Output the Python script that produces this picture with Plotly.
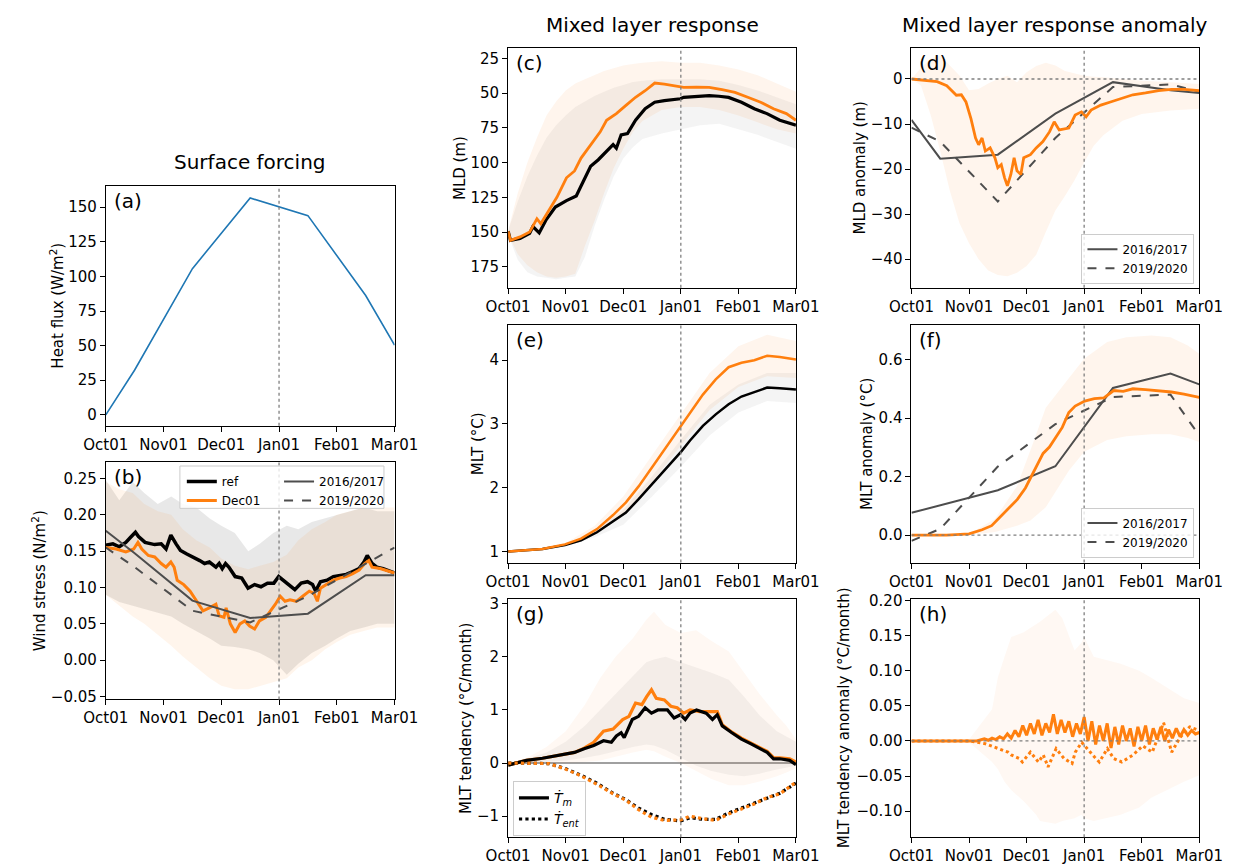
import plotly.graph_objects as go

W, H = 1256, 867
FONT = "DejaVu Sans"
ORANGE = "#ff7f0e"
BLUE = "#1f77b4"
DGREY = "#4d4d4d"

# ---------------- data ----------------
month_ticks = [0, 30, 60, 90, 120, 150]
month_labels = ["Oct01", "Nov01", "Dec01", "Jan01", "Feb01", "Mar01"]

# (a) heat flux
hf_day = [0, 15, 45, 75, 105, 135, 150]
hf_val = [0, 32.4, 105.6, 156.6, 143.9, 86.2, 50.3]

# (b) wind stress
obs_day = [0, 15, 45, 75, 105, 135, 150]
ws_1617 = [0.178, 0.147, 0.082, 0.058, 0.064, 0.117, 0.117]
ws_1920 = [0.155, 0.128, 0.068, 0.052, 0.088, 0.133, 0.155]
ws_ref_day = [0, 3.7, 7, 10.4, 12.9, 15.4, 17, 20.4, 25.4, 28.8, 31.3, 33.8, 36.5, 38.8, 42.1, 45.5, 48.8, 51.3,
              53.8, 57.2, 58.9, 60.5, 62.2, 63.9, 67.2, 70.6, 72.2, 73.9, 77.3, 80.6, 84, 87.3, 89.8, 92.3, 94.8,
              98.2, 101.5, 104.8, 107.4, 109, 111.5, 114.9, 118.2, 121.6, 124.9, 128.3, 131.6, 134.1, 135.8,
              138.3, 140.8, 144.1, 147.5, 150]
ws_ref = [0.158, 0.160, 0.156, 0.162, 0.169, 0.176, 0.170, 0.162, 0.159, 0.160, 0.153, 0.172, 0.160, 0.151,
          0.146, 0.142, 0.137, 0.133, 0.135, 0.128, 0.133, 0.126, 0.133, 0.128, 0.115, 0.113, 0.106, 0.099,
          0.104, 0.101, 0.106, 0.106, 0.115, 0.110, 0.104, 0.097, 0.106, 0.108, 0.104, 0.095, 0.108, 0.110,
          0.115, 0.117, 0.118, 0.122, 0.126, 0.135, 0.144, 0.133, 0.128, 0.126, 0.122, 0.120]
ws_dec_day = [0, 5.4, 10.4, 14.5, 16.7, 18.7, 22.1, 25.4, 28.8, 31.3, 33.8, 35.5, 37.1, 40.5, 43.8, 47.2, 50.5,
              53.8, 57.2, 58.9, 61.4, 62.5, 64.7, 67.2, 69.7, 72.2, 74.7, 77.3, 79.8, 83.1, 85.6, 88.1, 90.6,
              93.1, 95.7, 99, 102.3, 105.7, 108.2, 109.9, 111.5, 114.9, 118.2, 121.6, 124.9, 128.3, 131.6,
              134.5, 136.6, 138.3, 142.5, 150]
ws_dec = [0.155, 0.153, 0.149, 0.153, 0.162, 0.153, 0.144, 0.142, 0.133, 0.128, 0.135, 0.128, 0.110, 0.104,
          0.095, 0.081, 0.068, 0.072, 0.077, 0.061, 0.059, 0.072, 0.050, 0.038, 0.050, 0.054, 0.047, 0.043,
          0.054, 0.059, 0.068, 0.077, 0.088, 0.081, 0.083, 0.081, 0.088, 0.095, 0.092, 0.081, 0.099, 0.104,
          0.110, 0.113, 0.115, 0.119, 0.124, 0.133, 0.137, 0.128, 0.126, 0.120]
band_day_b = [0, 7, 14, 20, 27, 34, 40, 47, 54, 60, 67, 74, 80, 87, 94, 100, 107, 114, 120, 127, 134, 141, 150]
ws_ref_hi = [0.248, 0.22, 0.245, 0.23, 0.215, 0.225, 0.215, 0.21, 0.195, 0.185, 0.175, 0.15, 0.16, 0.175, 0.185,
             0.18, 0.19, 0.195, 0.2, 0.205, 0.21, 0.205, 0.205]
ws_ref_lo = [0.09, 0.08, 0.075, 0.07, 0.065, 0.06, 0.05, 0.04, 0.03, 0.02, 0.018, 0.015, 0.01, 0.0, -0.02,
             -0.005, 0.01, 0.02, 0.03, 0.04, 0.045, 0.05, 0.05]
ws_dec_hi = [0.245, 0.235, 0.23, 0.215, 0.205, 0.2, 0.18, 0.165, 0.155, 0.14, 0.13, 0.125, 0.13, 0.135, 0.145,
             0.165, 0.18, 0.19, 0.2, 0.205, 0.21, 0.21, 0.21]
ws_dec_lo = [0.09, 0.075, 0.06, 0.05, 0.035, 0.02, 0.005, -0.01, -0.025, -0.035, -0.04, -0.04, -0.035, -0.03,
             -0.025, -0.01, 0.0, 0.015, 0.025, 0.035, 0.04, 0.045, 0.045]

# (c) MLD
mld_ref_day = [0, 1.2, 6.2, 11.2, 12.9, 16.2, 19.6, 24.6, 30.4, 35.5, 38, 43, 47, 51.3, 54.7, 56.4, 58.9, 62.2,
               66.4, 71.4, 76.4, 81.4, 86.5, 89.8, 91.5, 98.2, 104.8, 109.9, 114.9, 121.6, 128.3, 134.9, 141.6, 150]
mld_ref = [149.4, 156, 154.6, 151, 146, 150.6, 141.6, 132, 127.4, 124, 116.8, 102.6, 97.9, 92, 87, 89.6, 80, 79,
           69.5, 61.2, 56.5, 55.3, 54.6, 54, 53, 52.2, 51.7, 52.2, 53, 56.5, 61.2, 64.7, 69.5, 73]
mld_dec_day = [0, 1.2, 6.2, 11.2, 15, 17, 21.2, 25.4, 30.4, 34.6, 38, 43, 48, 51.3, 56.4, 61.4, 66.4, 71.4, 76.4,
               81.4, 86.5, 91.5, 98.2, 104.8, 111.5, 118.2, 124.9, 131.6, 138.3, 145, 150]
mld_dec = [149.4, 156, 153.5, 150, 140.4, 144, 134.5, 125, 110.9, 106, 96.7, 87.2, 77.8, 69.5, 64.7, 58.8, 52.9,
           48.2, 42.7, 43.5, 44.6, 45.8, 45.6, 45.8, 47.5, 49.4, 52.9, 56.5, 61.2, 64.7, 69.5]
band_day_c = [0, 5, 10, 15, 20, 25, 30, 35, 40, 45, 50, 55, 60, 65, 70, 80, 90, 100, 110, 120, 130, 140, 150]
mld_dec_hi = [149, 122, 100, 82, 66, 56, 48, 43, 40, 37, 34, 32, 30, 29, 28, 27, 28, 28, 30, 33, 37, 43, 49]
mld_dec_lo = [151, 166, 174, 179, 182, 183, 182, 180, 160, 142, 122, 104, 90, 78, 70, 62, 60, 60, 62, 66, 71, 76, 79]
mld_ref_hi = [149, 128, 110, 95, 82, 73, 66, 60, 56, 52, 49, 46, 44, 42, 41, 40, 40, 40, 41, 44, 48, 53, 58]
mld_ref_lo = [152, 170, 179, 182, 183, 184, 183, 182, 168, 146, 127, 110, 97, 89, 83, 79, 76, 73, 72, 76, 80, 85, 90]

# (d) MLD anomaly
mlda_dec_day = [0, 13.4, 18.4, 23.4, 26, 28.4, 31, 33.4, 35, 36.8, 38.5, 41, 43.5, 45, 46.8, 48.5, 50, 51.8, 53.5,
                55, 57, 58.5, 62, 65, 68.5, 72, 74.4, 77, 82, 85.3, 88.6, 91, 93.6, 98.7, 103.7, 108.7, 115.4,
                122, 128.8, 135.5, 142, 150]
mlda_dec = [0, -0.6, -1.5, -3.6, -3.5, -5.1, -8.8, -13.1, -14.6, -13.1, -16, -15.3, -17.5, -19.7, -19, -21.9,
            -23.7, -21.2, -17.5, -20.4, -21.2, -17.5, -16.8, -15.3, -13.9, -11.7, -9.5, -11.3, -10.9, -8, -7.3,
            -8.4, -6.9, -5.8, -5.1, -4.4, -3.5, -3.1, -2.6, -2.3, -2.3, -2.6]
mlda_1617 = [-9.1, -17.7, -16.8, -7.7, -0.7, -2.5, -3.1]
mlda_1920 = [-10.8, -13.9, -27.2, -13.1, -1.8, -1.2, -2.8]
band_day_d = [0, 5, 10, 15, 20, 25, 30, 35, 40, 45, 50, 55, 60, 65, 70, 75, 80, 85, 90, 95, 100, 110, 120, 135, 150]
mlda_hi = [0, 2.5, 4.5, 5.2, 3, 0.8, -2.5, -2.2, -1.0, 0, 0.7, -0.7, 1.5, 2.9, 3.6, 3.0, 1.8, 1.2, 0.7, 0.5, 0.4,
           0, -0.4, -0.7, -1.1]
mlda_lo = [0, -1.5, -8, -16, -24.8, -32, -36.5, -40, -42.5, -43.5, -43.8, -43, -41.5, -39, -34, -29.2, -26, -22.5,
           -18.5, -14.8, -12.5, -9.3, -7.8, -7, -6.6]

# (e) MLT
mlt_day = [0, 17.9, 29.6, 38, 46.3, 54.7, 61.4, 68, 76.4, 84.8, 90.3, 94.8, 101.5, 108.2, 114.9, 121.6, 128.3,
           135, 141.6, 150]
mlt_ref = [1.0, 1.036, 1.098, 1.175, 1.30, 1.47, 1.61, 1.82, 2.10, 2.38, 2.57, 2.74, 2.97, 3.15, 3.31, 3.43, 3.50,
           3.57, 3.56, 3.54]
mlt_dec = [1.0, 1.036, 1.11, 1.20, 1.35, 1.57, 1.77, 2.02, 2.38, 2.74, 2.99, 3.18, 3.46, 3.70, 3.89, 3.96, 4.00,
           4.07, 4.05, 4.01]
band_day_e = [0, 15, 30, 45, 60, 75, 90, 105, 120, 135, 150]
mlt_dec_hi = [1.0, 1.04, 1.13, 1.40, 1.86, 2.50, 3.15, 3.80, 4.22, 4.40, 4.30]
mlt_dec_lo = [1.0, 1.03, 1.09, 1.27, 1.58, 2.08, 2.66, 3.22, 3.58, 3.75, 3.72]
mlt_ref_hi = [1.0, 1.04, 1.11, 1.32, 1.65, 2.18, 2.75, 3.30, 3.62, 3.80, 3.80]
mlt_ref_lo = [1.0, 1.03, 1.08, 1.22, 1.42, 1.86, 2.33, 2.82, 3.18, 3.36, 3.33]

# (f) MLT anomaly
mlta_1617 = [0.076, 0.102, 0.153, 0.235, 0.503, 0.552, 0.515]
mlta_1920 = [-0.02, 0.021, 0.234, 0.379, 0.472, 0.48, 0.34]
mlta_dec_day = [0, 18.4, 30, 36.8, 41.8, 46.8, 51.8, 55.2, 59.4, 63.5, 68.6, 71.9, 76.1, 78.6, 82, 85.3, 90.3,
                95.3, 100.3, 105.4, 110.4, 115.4, 122, 128.8, 135.5, 142, 150]
mlta_dec = [0, 0, 0.004, 0.018, 0.032, 0.066, 0.10, 0.122, 0.161, 0.212, 0.279, 0.301, 0.346, 0.368, 0.419, 0.441,
            0.458, 0.466, 0.469, 0.494, 0.491, 0.50, 0.497, 0.494, 0.489, 0.482, 0.471]
band_day_f = [0, 30, 43.5, 55, 62, 70, 82, 90, 102, 112, 125, 135, 144, 150]
mlta_hi = [0, 0.004, 0.055, 0.167, 0.29, 0.435, 0.536, 0.603, 0.66, 0.676, 0.682, 0.676, 0.648, 0.62]
mlta_lo = [0, 0, 0.01, 0.032, 0.05, 0.095, 0.22, 0.285, 0.325, 0.338, 0.345, 0.345, 0.332, 0.318]

# (g) MLT tendency
mltt_ref_day = [0, 9.5, 17.9, 26.3, 34.6, 39.6, 44.6, 49.7, 53.8, 56.4, 58.9, 60.5, 63, 64.7, 68, 71.4, 74.7, 78,
                83, 86.5, 89.8, 92.3, 94.8, 98.2, 103.2, 106.5, 109, 111.6, 116.6, 121.6, 126.6, 131.6, 135,
                138.3, 141.6, 146.7, 150]
mltt_ref = [-0.04, 0.05, 0.09, 0.15, 0.20, 0.27, 0.33, 0.42, 0.39, 0.51, 0.57, 0.48, 0.67, 0.82, 0.88, 1.04, 0.94,
            1.0, 1.0, 0.85, 0.91, 0.82, 0.94, 1.0, 0.94, 0.82, 0.91, 0.70, 0.57, 0.45, 0.36, 0.27, 0.20, 0.08,
            0.08, 0.05, -0.03]
mltt_dec_day = [0, 9.5, 17.9, 26.3, 34.6, 39.6, 44.6, 49.7, 54.7, 59.7, 63, 66.4, 69.7, 72.2, 74.7, 77.2, 81.4,
                84.8, 88.1, 91.5, 94.8, 99.9, 104.9, 109, 111.6, 116.6, 121.6, 126.6, 131.6, 135, 138.3, 141.6,
                146.7, 150]
mltt_dec = [-0.04, 0.05, 0.09, 0.15, 0.20, 0.28, 0.39, 0.60, 0.64, 0.82, 0.88, 1.13, 1.10, 1.25, 1.38, 1.22, 1.19,
            1.07, 1.04, 0.94, 1.0, 0.97, 0.97, 0.97, 0.72, 0.58, 0.47, 0.38, 0.28, 0.22, 0.10, 0.10, 0.08, 0.02]
ent_day = [0, 21.2, 29.6, 38, 46.3, 54.7, 61.4, 68, 74.7, 81.4, 90, 94.8, 101.5, 108.2, 114.9, 121.6, 128.3, 135,
           141.6, 150]
ent_ref = [0, -0.01, -0.10, -0.23, -0.38, -0.57, -0.69, -0.85, -0.97, -1.06, -1.09, -1.03, -1.06, -1.06, -0.94,
           -0.85, -0.75, -0.66, -0.57, -0.38]
ent_dec = [0, -0.01, -0.11, -0.24, -0.40, -0.58, -0.70, -0.88, -1.02, -1.08, -1.07, -1.00, -1.05, -1.08, -0.96,
           -0.87, -0.77, -0.65, -0.58, -0.36]
band_day_g = [0, 10, 20, 30, 40, 48, 56, 65, 72, 76, 82, 90, 98, 106, 115, 123, 131, 140, 145, 150]
mltt_dec_hi = [0, 0.1, 0.3, 0.6, 1.1, 1.6, 2.0, 2.35, 2.7, 2.85, 2.6, 2.45, 2.5, 2.3, 2.1, 1.7, 1.3, 0.9, 0.7, 0.45]
mltt_dec_lo = [0, 0, 0, 0, 0.02, 0.05, 0.12, 0.2, 0.25, 0.22, 0.12, 0.0, -0.15, -0.3, -0.42, -0.42, -0.35, -0.25,
               -0.18, -0.1]
mltt_ref_hi = [0, 0.08, 0.2, 0.4, 0.7, 1.0, 1.3, 1.65, 1.9, 1.95, 2.0, 1.9, 1.8, 1.7, 1.57, 1.25, 0.9, 0.6, 0.5, 0.4]
mltt_ref_lo = [0, 0, 0.02, 0.05, 0.1, 0.15, 0.22, 0.3, 0.35, 0.33, 0.25, 0.1, -0.05, -0.15, -0.22, -0.25, -0.2,
               -0.12, -0.08, -0.05]

# (h) MLT tendency anomaly
mltta_day = [0, 10, 20, 30, 34, 38, 40, 42, 44, 46, 48, 50, 52, 54, 56, 58, 60, 62, 64, 66, 68, 70, 72, 74, 76, 78,
             80, 82, 84, 86, 88, 90, 92, 94, 96, 98, 100, 102, 104, 106, 108, 110, 112, 114, 116, 118, 120, 122,
             124, 126, 128, 130, 132, 134, 136, 138, 140, 142, 144, 146, 148, 150]
mltta_dec = [0, 0, 0, 0.001, 0.0, 0.003, 0.001, 0.004, 0.002, 0.006, 0.003, 0.010, 0.004, 0.015, 0.006, 0.022,
             0.008, 0.025, 0.010, 0.030, 0.008, 0.025, 0.012, 0.038, 0.010, 0.030, 0.012, 0.028, 0.006, 0.025,
             0.010, 0.034, 0.000, 0.028, -0.005, 0.022, 0.000, 0.025, -0.010, 0.020, -0.005, 0.022, 0.000, 0.018,
             -0.008, 0.020, 0.000, 0.022, -0.005, 0.018, 0.002, 0.020, 0.000, 0.016, 0.004, 0.018, 0.006, 0.016,
             0.008, 0.015, 0.010, 0.012]
mltta_ent_day = [0, 30, 38.5, 43.5, 47.7, 50.3, 52, 56.1, 57.8, 62, 66.2, 68.7, 71.2, 75.4, 79.5, 83.7, 85.4, 88.7,
                 95.4, 97.9, 102.1, 105.4, 109.6, 115.5, 120.5, 125.5, 131.4, 135.6, 140, 145, 150]
mltta_ent = [0, 0, -0.004, -0.009, -0.014, -0.016, -0.02, -0.025, -0.03, -0.016, -0.03, -0.02, -0.037, -0.011,
             -0.025, -0.032, -0.016, -0.002, -0.023, -0.03, -0.011, -0.025, -0.03, -0.02, -0.007, -0.016, 0.026,
             -0.016, 0.005, 0.02, 0.015]
band_day_h = [0, 30, 42, 45, 48.5, 52, 58.5, 65, 67, 75, 78.6, 85, 88.6, 90, 95, 109, 118.7, 125, 142, 150]
mltta_hi = [0, 0.002, 0.045, 0.09, 0.12, 0.148, 0.155, 0.166, 0.17, 0.187, 0.175, 0.129, 0.14, 0.148, 0.12, 0.11,
            0.1, 0.09, 0.061, 0.054]
mltta_lo = [0, -0.002, -0.03, -0.04, -0.058, -0.07, -0.086, -0.105, -0.114, -0.118, -0.114, -0.11, -0.105, -0.11,
            -0.114, -0.105, -0.095, -0.081, -0.058, -0.049]

# y tick labels
yt1 = [0, 25, 50, 75, 100, 125, 150]
yt2 = [-0.05, 0, 0.05, 0.1, 0.15, 0.2, 0.25]
yt2_lab = ["\u22120.05", "0.00", "0.05", "0.10", "0.15", "0.20", "0.25"]
yt3 = [25, 50, 75, 100, 125, 150, 175]
yt4 = [0, -10, -20, -30, -40]
yt4_lab = ["0", "\u221210", "\u221220", "\u221230", "\u221240"]
yt5 = [1, 2, 3, 4]
yt6 = [0, 0.2, 0.4, 0.6]
yt6_lab = ["0.0", "0.2", "0.4", "0.6"]
yt7 = [-1, 0, 1, 2, 3]
yt7_lab = ["\u22121", "0", "1", "2", "3"]
yt8 = [-0.1, -0.05, 0, 0.05, 0.1, 0.15, 0.2]
yt8_lab = ["\u22120.10", "\u22120.05", "0.00", "0.05", "0.10", "0.15", "0.20"]

# ---------------- figure ----------------
boxes = {1: (86, 386, 182, 425), 2: (86, 386, 462, 703), 3: (504, 803, 42, 285), 4: (923, 1222, 42, 285),
         5: (504, 803, 323, 564), 6: (923, 1222, 323, 564), 7: (504, 803, 601, 843), 8: (923, 1222, 601, 843)}
yranges = {1: [-7.8, 165.1], 2: [-0.054, 0.2725], 3: [190.1, 17.7], 4: [-46.35, 6.8], 5: [0.825, 4.55],
           6: [-0.094, 0.7175], 7: [-1.40, 3.09], 8: [-0.1374, 0.2023]}
yticks = {1: (yt1, [str(v) for v in yt1]), 2: (yt2, yt2_lab), 3: (yt3, [str(v) for v in yt3]), 4: (yt4, yt4_lab),
          5: (yt5, [str(v) for v in yt5]), 6: (yt6, yt6_lab), 7: (yt7, yt7_lab), 8: (yt8, yt8_lab)}

fig = go.Figure()


def ax(k):
    return ("x" if k == 1 else f"x{k}"), ("y" if k == 1 else f"y{k}")


def line(k, x, y, color, width, dash="solid", name=None, legend=None, show=False):
    xa, ya = ax(k)
    fig.add_trace(go.Scatter(x=x, y=y, mode="lines", xaxis=xa, yaxis=ya,
                             line=dict(color=color, width=width, dash=dash),
                             name=name, showlegend=show, legend=legend, hoverinfo="skip"))


def band(k, x, lo, hi, fillcolor):
    xa, ya = ax(k)
    fig.add_trace(go.Scatter(x=list(x) + list(x)[::-1], y=list(hi) + list(lo)[::-1], mode="lines",
                             xaxis=xa, yaxis=ya, fill="toself", fillcolor=fillcolor,
                             line=dict(width=0), showlegend=False, hoverinfo="skip"))


GREY_B = "rgba(128,128,128,0.18)"
OR_B = "rgba(255,127,14,0.08)"
GREY_L = "rgba(128,128,128,0.09)"
OR_L = "rgba(255,127,14,0.075)"
OR_H = "rgba(255,127,14,0.05)"

# (a)
line(1, hf_day, hf_val, BLUE, 1.6)

# (b)
band(2, band_day_b, ws_ref_lo, ws_ref_hi, GREY_B)
band(2, band_day_b, ws_dec_lo, ws_dec_hi, OR_B)
line(2, ws_ref_day, ws_ref, "black", 3.5, name="ref", legend="legend", show=True)
line(2, ws_dec_day, ws_dec, ORANGE, 3.0, name="Dec01", legend="legend", show=True)
line(2, obs_day, ws_1617, DGREY, 2, name="2016/2017", legend="legend2", show=True)
line(2, obs_day, ws_1920, DGREY, 2, dash="dash", name="2019/2020", legend="legend2", show=True)

# (c)
band(3, band_day_c, mld_ref_lo, mld_ref_hi, GREY_L)
band(3, band_day_c, mld_dec_lo, mld_dec_hi, OR_L)
line(3, mld_ref_day, mld_ref, "black", 3.2)
line(3, mld_dec_day, mld_dec, ORANGE, 2.8)

# (d)
band(4, band_day_d, mlda_lo, mlda_hi, OR_L)
line(4, obs_day, mlda_1617, DGREY, 2, name="2016/2017", legend="legend3", show=True)
line(4, obs_day, mlda_1920, DGREY, 2, dash="dash", name="2019/2020", legend="legend3", show=True)
line(4, mlda_dec_day, mlda_dec, ORANGE, 2.8)

# (e)
band(5, band_day_e, mlt_ref_lo, mlt_ref_hi, GREY_L)
band(5, band_day_e, mlt_dec_lo, mlt_dec_hi, OR_L)
line(5, mlt_day, mlt_ref, "black", 2.5)
line(5, mlt_day, mlt_dec, ORANGE, 2.5)

# (f)
band(6, band_day_f, mlta_lo, mlta_hi, OR_L)
line(6, obs_day, mlta_1617, DGREY, 2, name="2016/2017", legend="legend4", show=True)
line(6, obs_day, mlta_1920, DGREY, 2, dash="dash", name="2019/2020", legend="legend4", show=True)
line(6, mlta_dec_day, mlta_dec, ORANGE, 2.8)

# (g)
band(7, band_day_g, mltt_ref_lo, mltt_ref_hi, GREY_L)
band(7, band_day_g, mltt_dec_lo, mltt_dec_hi, OR_H)
line(7, mltt_dec_day, mltt_dec, ORANGE, 3.2)
line(7, mltt_ref_day, mltt_ref, "black", 3.2, name="<i>\u1e6a<sub>m</sub></i>", legend="legend5", show=True)
line(7, ent_day, ent_ref, "black", 3.2, dash="dot", name="<i>\u1e6a<sub>ent</sub></i>", legend="legend5", show=True)
line(7, ent_day, ent_dec, ORANGE, 3.2, dash="dot")

# (h)
band(8, band_day_h, mltta_lo, mltta_hi, OR_H)
line(8, mltta_day, mltta_dec, ORANGE, 3.0)
line(8, mltta_ent_day, mltta_ent, ORANGE, 3.0, dash="dot")

# axes
axis_common = dict(showline=True, mirror=True, linecolor="black", linewidth=1, ticks="outside", ticklen=5,
                   tickwidth=1, tickcolor="black", showgrid=False, zeroline=False,
                   tickfont=dict(family=FONT, size=15, color="black"), fixedrange=True)
layout_axes = {}
for k, (x0, x1, y0, y1) in boxes.items():
    xn = "xaxis" if k == 1 else f"xaxis{k}"
    yn = "yaxis" if k == 1 else f"yaxis{k}"
    ya_id = "y" if k == 1 else f"y{k}"
    xa_id = "x" if k == 1 else f"x{k}"
    layout_axes[xn] = dict(axis_common, domain=[x0 / W, x1 / W], range=[0, 150], anchor=ya_id,
                           tickmode="array", tickvals=month_ticks, ticktext=month_labels)
    tv, tt = yticks[k]
    layout_axes[yn] = dict(axis_common, domain=[1 - y1 / H, 1 - y0 / H], range=yranges[k], anchor=xa_id,
                           tickmode="array", tickvals=tv, ticktext=tt, autorange=False)
fig.update_layout(**layout_axes)

# shapes
shapes = []
for k in boxes:
    xa, ya = ax(k)
    shapes.append(dict(type="line", xref=xa, yref=f"{ya} domain", x0=90, x1=90, y0=0, y1=1,
                       line=dict(color="#7f7f7f", width=1.3, dash="dot"), layer="above"))
for k in (4, 6, 8):
    xa, ya = ax(k)
    shapes.append(dict(type="line", xref=f"{xa} domain", yref=ya, x0=0, x1=1, y0=0, y1=0,
                       line=dict(color="#7f7f7f", width=1.3, dash="dot"), layer="above"))
xa, ya = ax(7)
shapes.append(dict(type="line", xref=f"{xa} domain", yref=ya, x0=0, x1=1, y0=0, y1=0,
                   line=dict(color="#808080", width=1.5), layer="below"))
# legend frame for panel (b)
shapes.append(dict(type="rect", xref="paper", yref="paper", x0=163 / W, x1=375 / W, y0=1 - 509 / H, y1=1 - 466 / H,
                   fillcolor="rgba(255,255,255,0.8)", line=dict(color="#cccccc", width=1), layer="above"))
fig.update_layout(shapes=shapes)

# annotations
ann = []


def text(x, y, s, size, angle=0, xanchor="center", yanchor="middle"):
    ann.append(dict(x=x / W, y=1 - y / H, xref="paper", yref="paper", text=s, showarrow=False, textangle=angle,
                    xanchor=xanchor, yanchor=yanchor, font=dict(family=FONT, size=size, color="black")))


text(236, 157, "Surface forcing", 20)
text(653.5, 18, "Mixed layer response", 20)
text(1072.5, 18, "Mixed layer response anomaly", 20)
for k, lab in zip(boxes, ["(a)", "(b)", "(c)", "(d)", "(e)", "(f)", "(g)", "(h)"]):
    x0, x1, y0, y1 = boxes[k]
    text(x0 + 6, y0 + 15, lab, 20, xanchor="left")
ylabels = {1: (35, "Heat flux (W/m<sup>2</sup>)"), 2: (16, "Wind stress (N/m<sup>2</sup>)"),
           3: (454, "MLD (m)"), 4: (870, "MLD anomaly (m)"), 5: (473, "MLT (\u00b0C)"),
           6: (877, "MLT anomaly (\u00b0C)"), 7: (460, "MLT tendency (\u00b0C/month)"),
           8: (853, "MLT tendency anomaly (\u00b0C/month)")}
for k, (xp, s) in ylabels.items():
    x0, x1, y0, y1 = boxes[k]
    text(xp, (y0 + y1) / 2, s, 15, angle=-90)
fig.update_layout(annotations=ann)

leg_common = dict(font=dict(family=FONT, size=12, color="black"), bgcolor="rgba(0,0,0,0)", borderwidth=0,
                  xanchor="left", yanchor="top", tracegroupgap=0, itemwidth=30)
fig.update_layout(
    legend=dict(leg_common, x=165 / W, y=1 - 467 / H),
    legend2=dict(leg_common, x=266 / W, y=1 - 467 / H),
    legend3=dict(leg_common, x=1217 / W, y=1 - 281 / H, xanchor="right", yanchor="bottom",
                 bgcolor="rgba(255,255,255,0.8)", bordercolor="#cccccc", borderwidth=1),
    legend4=dict(leg_common, x=1217 / W, y=1 - 559 / H, xanchor="right", yanchor="bottom",
                 bgcolor="rgba(255,255,255,0.8)", bordercolor="#cccccc", borderwidth=1),
    legend5=dict(leg_common, x=509 / W, y=1 - 786 / H, font=dict(family=FONT, size=14, color="black"),
                 bgcolor="rgba(255,255,255,0.8)", bordercolor="#cccccc", borderwidth=1),
)

fig.update_layout(width=W, height=H, margin=dict(l=0, r=0, t=0, b=0), paper_bgcolor="white",
                  plot_bgcolor="white", font=dict(family=FONT, size=15, color="black"))
fig.write_html("out.html")
